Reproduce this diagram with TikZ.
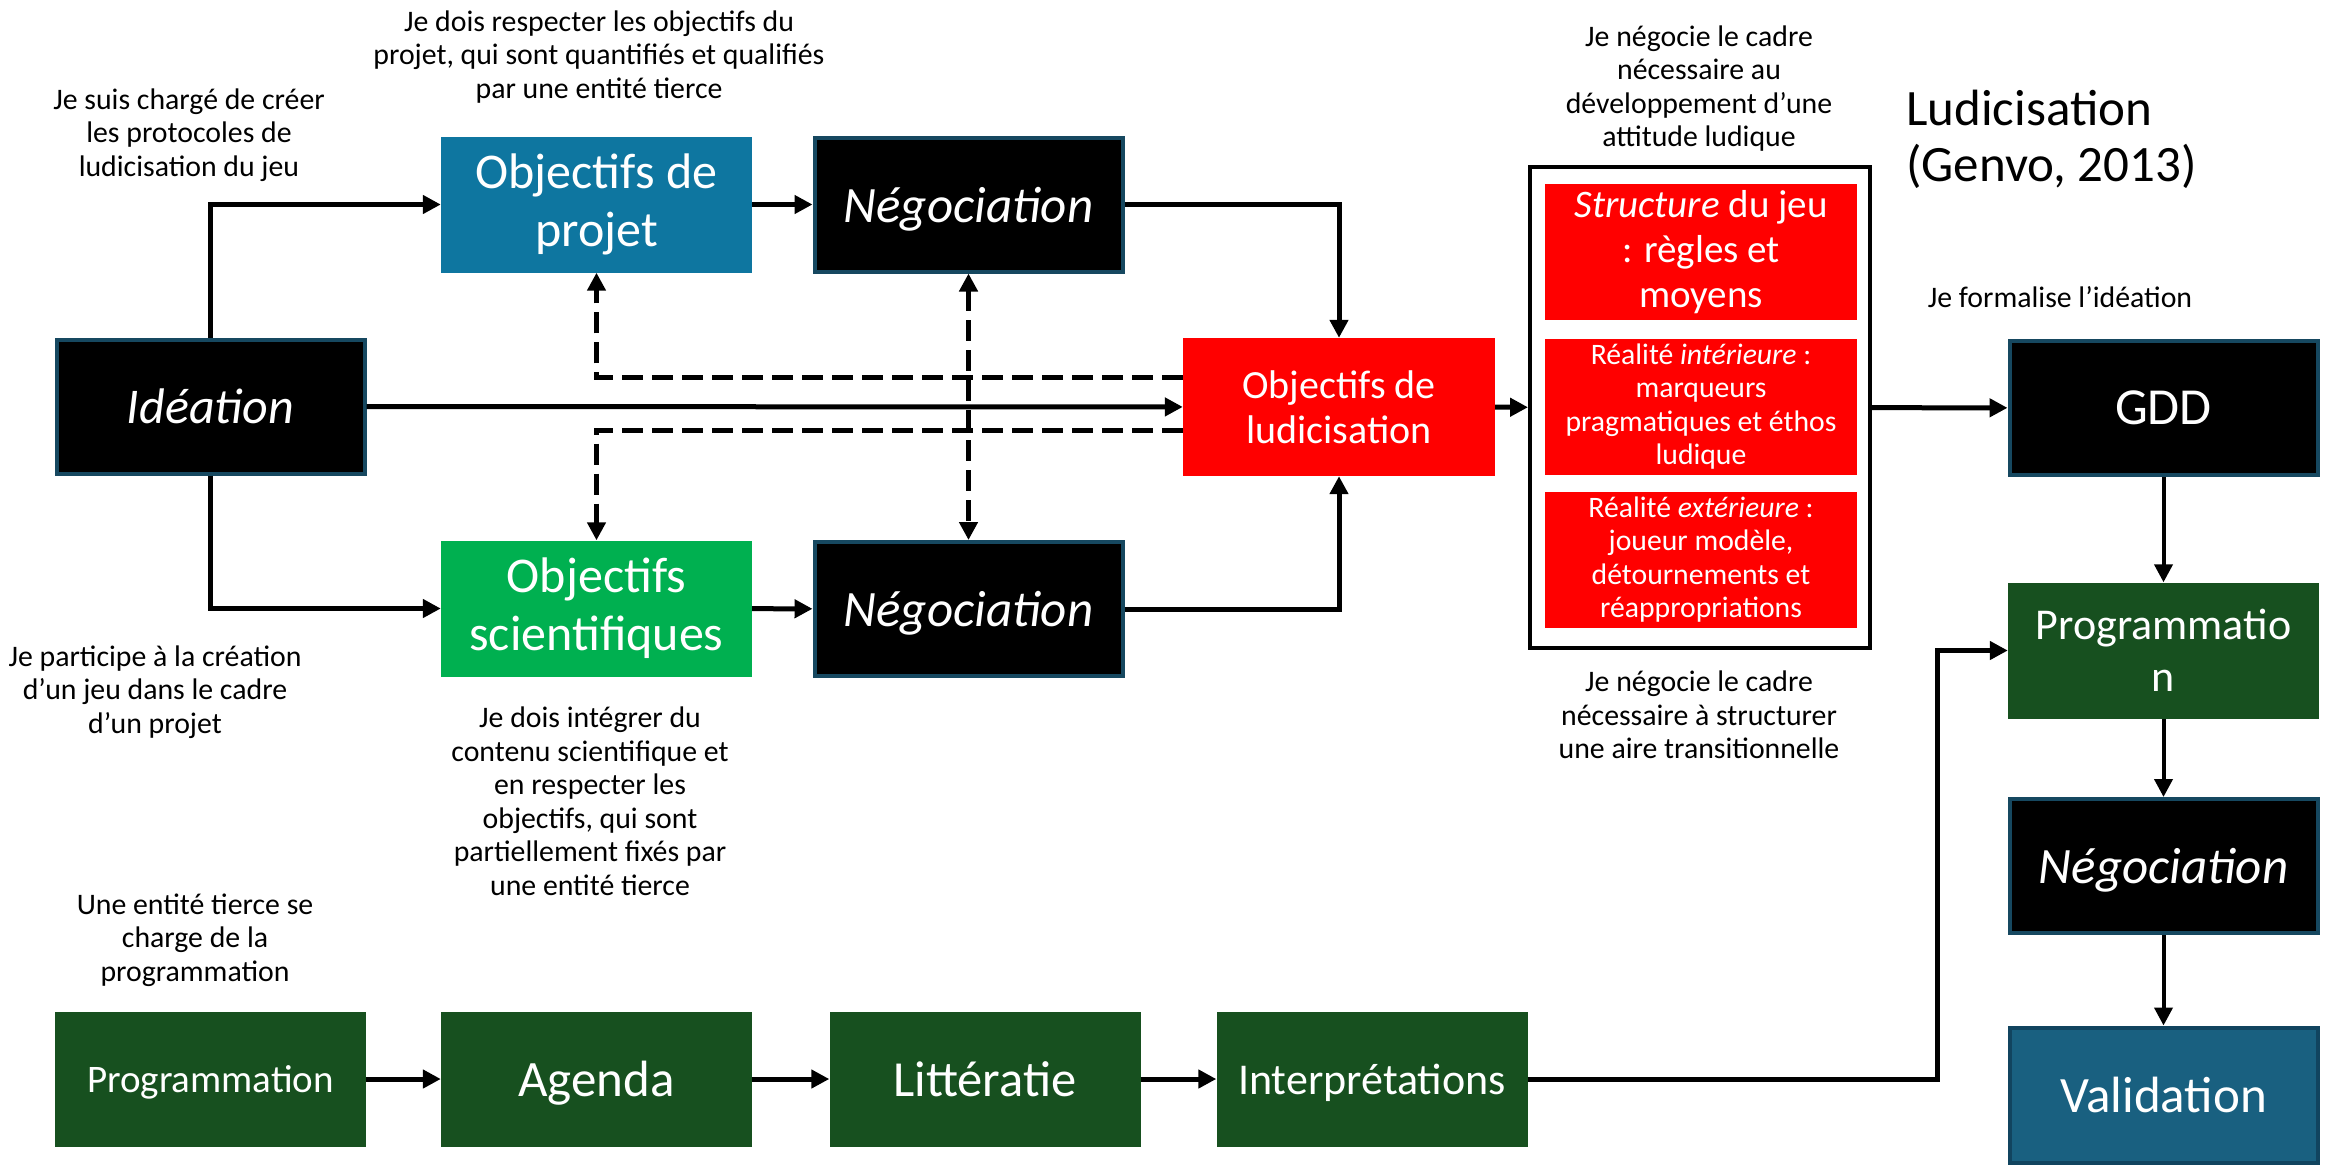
\documentclass[tikz,border=0pt]{standalone}
\usepackage{fontspec}
\setmainfont{Carlito}
\usetikzlibrary{arrows.meta}
\definecolor{edgeblue}{RGB}{22,72,96}
\definecolor{projblue}{RGB}{14,118,160}
\definecolor{valblue}{RGB}{25,96,128}
\definecolor{valedge}{RGB}{17,68,95}
\definecolor{sciGreen}{RGB}{0,176,80}
\definecolor{darkgreen}{RGB}{23,80,31}
\definecolor{ludred}{RGB}{255,0,0}
\newcommand{\fs}[2]{\fontsize{#1}{#2}\selectfont}
\tikzset{
  box/.style={rectangle, inner sep=0pt, minimum width=311pt, minimum height=136pt,
    text=white, align=center},
  oneline/.style={text depth=0pt},
  blackbox/.style={box, oneline, fill=black, draw=edgeblue, line width=4pt, minimum width=308pt,
    minimum height=134pt, font=\fs{51}{58}\itshape},
  bluebox/.style={box, fill=projblue, font=\fs{50}{58}},
  greenbox/.style={box, fill=sciGreen, font=\fs{50}{58}},
  dgbox/.style={box, oneline, fill=darkgreen, minimum height=135pt},
  redbox/.style={box, fill=ludred, minimum width=312pt, minimum height=136pt},
  note/.style={align=center, inner sep=0pt, text=black, font=\fs{29.8}{33.5}},
  arr/.style={line width=5pt, -{Triangle[length=18pt,width=18pt]}},
  dsh/.style={line width=5pt, dash pattern=on 21pt off 9pt},
  dtip/.style={-{Triangle[length=18pt,width=18pt]}},
  dtips/.style={{Triangle[length=18pt,width=18pt]}-{Triangle[length=18pt,width=18pt]}},
}
\begin{document}
\begin{tikzpicture}[x=1pt, y=-1pt]
\useasboundingbox[fill=white] (0,0) rectangle (2331,1168);

% main nodes of the upper part
\node[blackbox, font=\fs{50}{58}\itshape] (idea) at (210.5,406.5) {Idéation};
\node[bluebox] (op) at (596.5,204.5) {Objectifs de\\projet};
\node[blackbox] (nt) at (968.5,204.5) {Négociation};
\node[greenbox] (os) at (596.5,608.5) {Objectifs\\scientifiques};
\node[blackbox] (nm) at (968.5,609) {Négociation};
\node[redbox, minimum height=138pt, font=\fs{40}{45}] (lud) at (1339,407) {Objectifs de\\ludicisation};

% ludicisation frame with its three components
\node[rectangle, draw=black, line width=4pt, fill=white, minimum width=340pt,
  minimum height=481pt, inner sep=0pt] (frame) at (1700,407.5) {};
\node[redbox, font=\fs{39}{45}] (struct) at (1701,252) {\textit{Structure} du jeu\\: règles et\\moyens};
\node[redbox, font=\fs{29.7}{33.5}] (rint) at (1701,406.5) {Réalité \textit{intérieure} :\\marqueurs\\pragmatiques et éthos\\ludique};
\node[redbox, font=\fs{29.7}{33.5}] (rext) at (1701,559.5) {Réalité \textit{extérieure} :\\joueur modèle,\\détournements et\\réappropriations};

% right column
\node[blackbox, font=\fs{52}{58}] (gdd) at (2163.5,408) {GDD};
\node[box, fill=darkgreen, font=\fs{44}{52}] (pr) at (2163.5,650.5) {Programmatio\\n};
\node[blackbox] (nr) at (2163.5,866) {Négociation};
\node[box, oneline, fill=valblue, draw=valedge, line width=4pt, minimum width=308pt,
  minimum height=135pt, font=\fs{51}{58}] (val) at (2163.5,1095) {Validation};

% bottom row
\node[dgbox, font=\fs{39}{46}] (b1) at (210.5,1079) {Programmation};
\node[dgbox, font=\fs{51}{58}] (b2) at (596.5,1079) {Agenda};
\node[dgbox, font=\fs{50.5}{58}] (b3) at (985,1079) {Littératie};
\node[dgbox, font=\fs{44}{52}] (b4) at (1372,1079) {Interprétations};

% annotations
\node[note] (n1) at (599,57) {Je dois respecter les objectifs du\\projet, qui sont quantifiés et qualifiés\\par une entité tierce};
\node[note] (n2) at (189,135) {Je suis chargé de créer\\les protocoles de\\ludicisation du jeu};
\node[note] (n3) at (155,692) {Je participe à la création\\d’un jeu dans le cadre\\d’un projet};
\node[note] (n4) at (590,801) {Je dois intégrer du\\contenu scientifique et\\en respecter les\\objectifs, qui sont\\partiellement fixés par\\une entité tierce};
\node[note] (n5) at (195,940) {Une entité tierce se\\charge de la\\programmation};
\node[note] (n6) at (1699,88.5) {Je négocie le cadre\\nécessaire au\\développement d’une\\attitude ludique};
\node[note] (n7) at (2060,297) {Je formalise l’idéation};
\node[note] (n8) at (1699,715) {Je négocie le cadre\\nécessaire à structurer\\une aire transitionnelle};
\node[anchor=west, align=left, inner sep=0pt, font=\fs{51}{56.5}] (title) at (1906,139.5) {Ludicisation\\(Genvo, 2013)};

% dashed links between the objectives and the negotiations
\draw[dsh, dtip] ([yshift=30pt]lud.west) -| (op.south);
\draw[dsh, dtip] ([yshift=-23pt]lud.west) -| (os.north);
\draw[dsh, dtips] (nt.south) -- (nm.north);

% solid flow
\draw[arr] (idea.north) |- (op.west);
\draw[arr] (idea.south) |- (os.west);
\draw[arr] (op) -- (nt);
\draw[arr] (os) -- (nm);
\draw[arr] (nt.east) -| (lud.north);
\draw[arr] (nm.east) -| (lud.south);
\draw[arr] (idea) -- (lud);
\draw[arr] (lud) -- (frame);
\draw[arr] (frame) -- (gdd);
\draw[arr, line width=4pt] (gdd) -- (pr);
\draw[arr, line width=4pt] (pr) -- (nr);
\draw[arr, line width=4pt] (nr) -- (val);
\draw[arr] (b1) -- (b2);
\draw[arr] (b2) -- (b3);
\draw[arr] (b3) -- (b4);
\coordinate (turn) at (1937,1079);
\draw[arr] (b4.east) -- (turn) |- (pr.west);
\end{tikzpicture}
\end{document}
